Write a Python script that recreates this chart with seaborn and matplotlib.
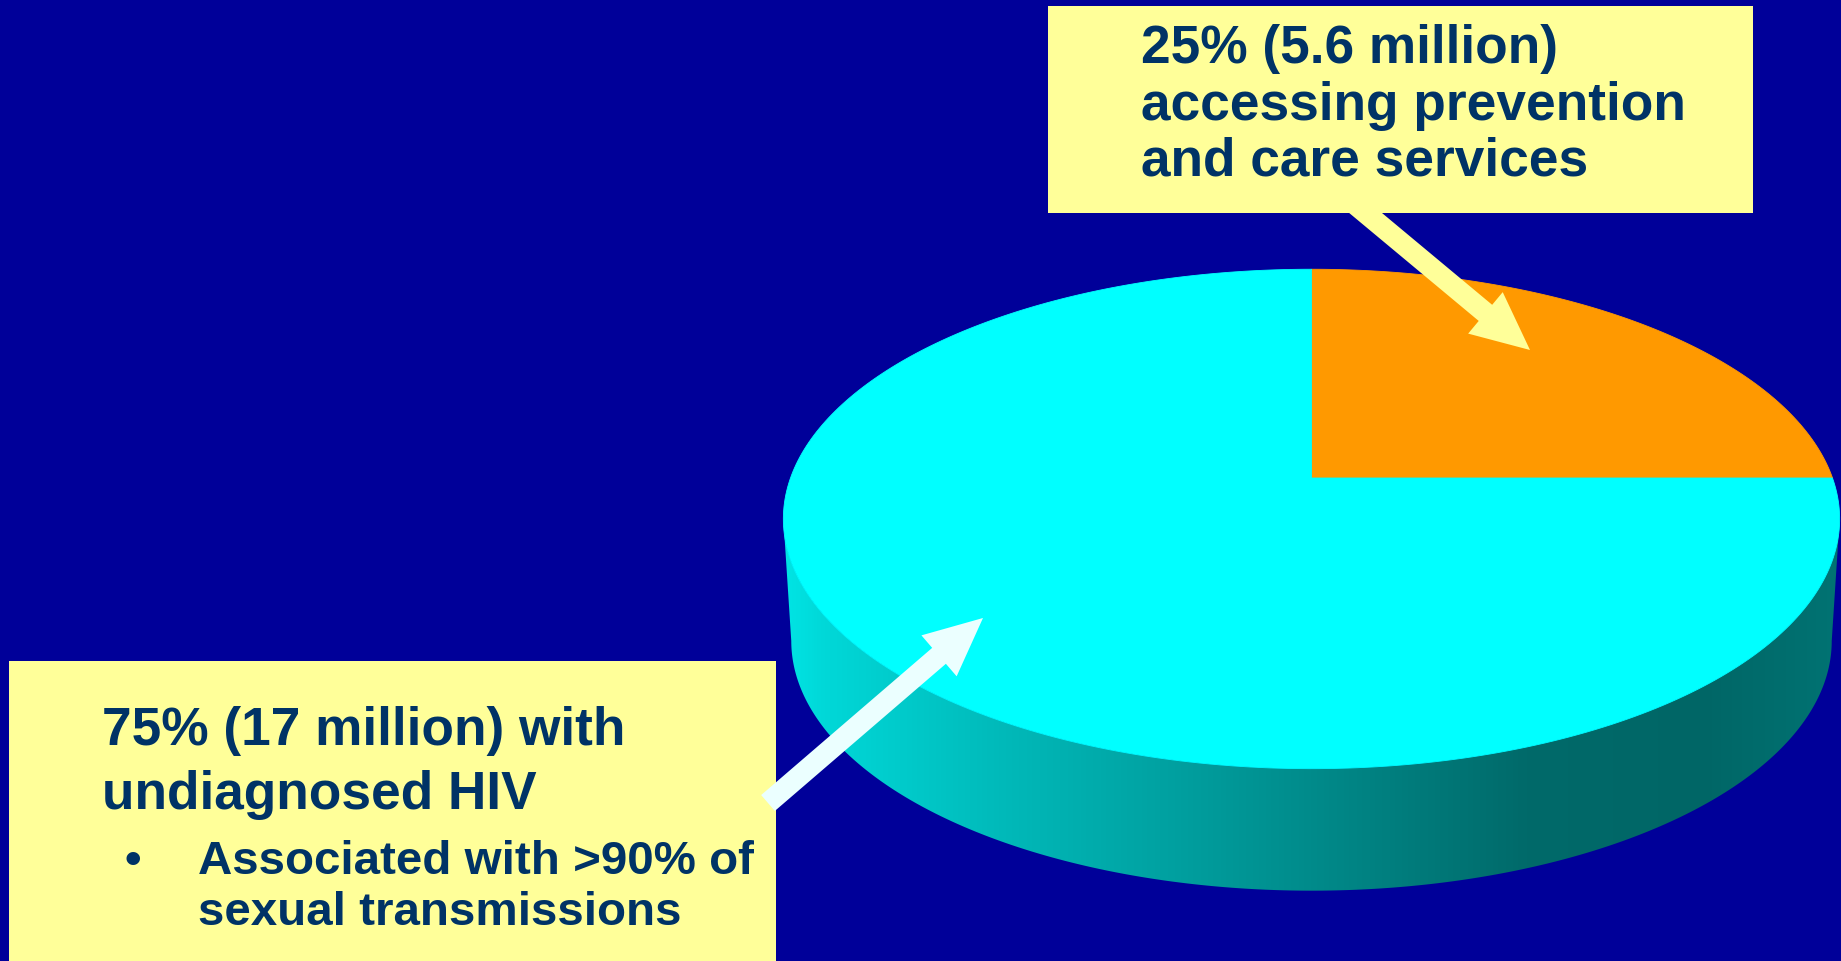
import numpy as np
import matplotlib
matplotlib.use("Agg")
import matplotlib.pyplot as plt
import seaborn as sns
from matplotlib.patches import Rectangle, FancyArrow, Polygon
from matplotlib.colors import LinearSegmentedColormap

# ---------------- data ----------------
categories = ["Accessing prevention and care services", "Undiagnosed HIV"]
shares = [25, 75]                 # percent of people living with HIV
counts_millions = [5.6, 17]
slice_colors = ["#FF9900", "#00FFFF"]
label_top = ["25% (5.6 million)", "accessing prevention", "and care services"]
label_bottom = ["75% (17 million) with", "undiagnosed HIV"]
bullet_lines = ["Associated with >90% of", "sexual transmissions"]

# ---------------- style ----------------
W, H = 1841, 961
BG = "#000099"
BOX = "#FFFF99"
TXT = "#003366"
sns.set_theme(style="white")
plt.rcParams['font.family'] = ['Liberation Sans', 'DejaVu Sans']

fig = plt.figure(figsize=(W / 100, H / 100), dpi=100, facecolor=BG)
ax = fig.add_axes([0, 0, 1, 1])
ax.set_xlim(0, W)
ax.set_ylim(H, 0)
ax.set_facecolor(BG)
ax.axis('off')

# ---------------- 3D pie (perspective projection of a disc) ----------------
cx, cy = 1311.5, 478.0      # projected centre of the disc
a, b, k = 521.0, 243.0, 0.164
depth = 122.0
bottom_shrink = 0.985


def proj(t, drop=0.0, shrink=1.0):
    u, v = np.cos(t), np.sin(t)
    s = 1 + k * v
    return cx + shrink * a * u / s, cy - b * v / s + drop


# side wall (visible near half between silhouette points)
t0 = np.pi + np.arcsin(k)
t1 = 2 * np.pi - np.arcsin(k)
ts = np.linspace(t0, t1, 400)
xt, yt = proj(ts)
xb, yb = proj(ts[::-1], depth, bottom_shrink)
side_xy = np.column_stack([np.concatenate([xt, xb]), np.concatenate([yt, yb])])
side_poly = Polygon(side_xy, closed=True, facecolor='none', edgecolor='none', zorder=1)
ax.add_patch(side_poly)

stops = [(784, "#00E4E4"), (822, "#00D8D8"), (998, "#00BABA"), (1174, "#00A0A0"),
         (1350, "#008585"), (1526, "#006A6A"), (1702, "#006666"), (1840, "#007373")]
span = stops[-1][0] - stops[0][0]
cmap = LinearSegmentedColormap.from_list(
    "side", [((p - stops[0][0]) / span, c) for p, c in stops])
grad = np.linspace(0, 1, 512)[None, :]
im = ax.imshow(grad, extent=(stops[0][0], stops[-1][0], yb.max() + 5, yt.min() - 5),
               cmap=cmap, aspect='auto', zorder=1, interpolation='bilinear')
im.set_clip_path(side_poly)

# top face wedges from the data
start = 0.0
for share, col in zip(shares, slice_colors):
    ang = np.linspace(start, start + 2 * np.pi * share / 100.0, 300)
    rx, ry = proj(ang)
    px = np.concatenate([[cx], rx])
    py = np.concatenate([[cy], ry])
    ax.fill(px, py, color=col, lw=0.6, ec=col, zorder=2)
    start += 2 * np.pi * share / 100.0

# ---------------- callout boxes ----------------
ax.add_patch(Rectangle((1048, 6), 705, 207, facecolor=BOX, edgecolor='none', zorder=4))
ax.add_patch(Rectangle((9, 661), 767, 310, facecolor=BOX, edgecolor='none', zorder=4))

# arrows
ax.add_patch(FancyArrow(1350, 200, 180, 150, width=21, head_width=54, head_length=58,
                        length_includes_head=True, color=BOX, lw=0, zorder=3))
ax.add_patch(FancyArrow(768, 803, 215, -185, width=21, head_width=54, head_length=58,
                        length_includes_head=True, color="#EBFFFF", lw=0, zorder=5))

# ---------------- text ----------------
for line, yb_ in zip(label_top, [63, 120, 176]):
    ax.text(1141, yb_, line, fontsize=38.3, fontweight='bold', color=TXT,
            ha='left', va='baseline', zorder=6)
for line, yb_ in zip(label_bottom, [745, 809]):
    ax.text(102, yb_, line, fontsize=38.3, fontweight='bold', color=TXT,
            ha='left', va='baseline', zorder=6)
ax.text(125, 874, "\u2022", fontsize=34, fontweight='bold', color=TXT,
        ha='left', va='baseline', zorder=6)
for line, yb_ in zip(bullet_lines, [874, 925]):
    ax.text(198, yb_, line, fontsize=34.2, fontweight='bold', color=TXT,
            ha='left', va='baseline', zorder=6)

fig.savefig("out.png", dpi=100, facecolor=BG)
